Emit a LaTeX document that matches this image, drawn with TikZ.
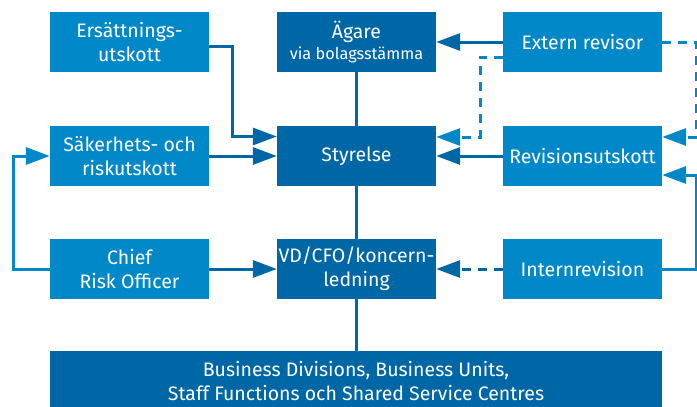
\documentclass[tikz,border=0pt]{standalone}
\usepackage{fontspec}
\setmainfont{Fira Sans}
\usetikzlibrary{arrows.meta,calc}
\definecolor{lightb}{HTML}{0088C8}
\definecolor{darkb}{HTML}{0067A7}
\begin{document}
\begin{tikzpicture}[x=1pt,y=-1pt,
  box/.style={rectangle, minimum width=159pt, minimum height=60pt, inner sep=0pt,
    text=white, align=center, font=\fontsize{19.5}{24}\selectfont},
  lbox/.style={box, fill=lightb},
  dbox/.style={box, fill=darkb},
  conn/.style={line width=3pt},
  arr/.style={conn, -{Triangle[length=24pt,width=17pt]}},
  dsh/.style={dash pattern=on 9pt off 7pt}
]
\useasboundingbox (0,0) rectangle (697,407);
\node[lbox] (ers) at (129.5,42) {Ersättnings-\\utskott};
\node[dbox] (aga) at (356.5,42) {Ägare\\[-3pt]{\fontsize{16.3}{20}\selectfont via bolagsstämma}};
\node[lbox] (ext) at (582.5,42) {Extern revisor};
\node[lbox] (sak) at (129.5,156) {Säkerhets- och\\riskutskott};
\node[dbox] (sty) at (356.5,156) {Styrelse};
\node[lbox] (rev) at (582.5,156) {Revisionsutskott};
\node[lbox] (cro) at (129.5,269) {Chief\\Risk Officer};
\node[dbox] (vd) at (356.5,269) {VD/CFO/koncern-\\ledning};
\node[lbox] (int) at (582.5,269) {Internrevision};
\node[dbox, minimum width=612pt, minimum height=60pt, anchor=north] (bus) at (356,351) {Business Divisions, Business Units,\\Staff Functions och Shared Service Centres};
\coordinate (c1) at (232,0);
\coordinate (c2) at (13,0);
\coordinate (c3) at (480,0);
\coordinate (c4) at (696,0);
% vertical spine
\draw[conn, darkb] (aga) -- (sty);
\draw[conn, darkb] (sty) -- (vd);
\draw[conn, darkb] (vd.south) -- (vd.south |- bus.north);
% left side
\draw[arr, darkb] ($(ers.east)+(0,4.5)$) -| (c1 |- {$(sty.west)+(0,-19.5)$}) -- ($(sty.west)+(0,-19.5)$);
\draw[arr, darkb] (sak.east) -- (sty.west);
\draw[arr, darkb] (cro.east) -- (vd.west);
\draw[arr, lightb] (cro.west) -| (c2 |- sak.west) -- (sak.west);
% right side
\draw[arr, darkb] (ext.west) -- (aga.east);
\draw[arr, darkb] (rev.west) -- (sty.west -| sty.east);
\draw[arr, lightb, dsh] ($(ext.west)+(0,15)$) -| (c3 |- {$(sty.east)+(0,-19)$}) -- ($(sty.east)+(0,-19)$);
\draw[arr, lightb, dsh] (ext.east) -| (c4 |- {$(rev.east)+(0,-19)$}) -- ($(rev.east)+(0,-19)$);
\draw[arr, lightb] (int.east) -| (c4 |- {$(rev.east)+(0,19)$}) -- ($(rev.east)+(0,19)$);
\draw[arr, darkb, dsh] (int.west) -- (vd.east);
\end{tikzpicture}
\end{document}
